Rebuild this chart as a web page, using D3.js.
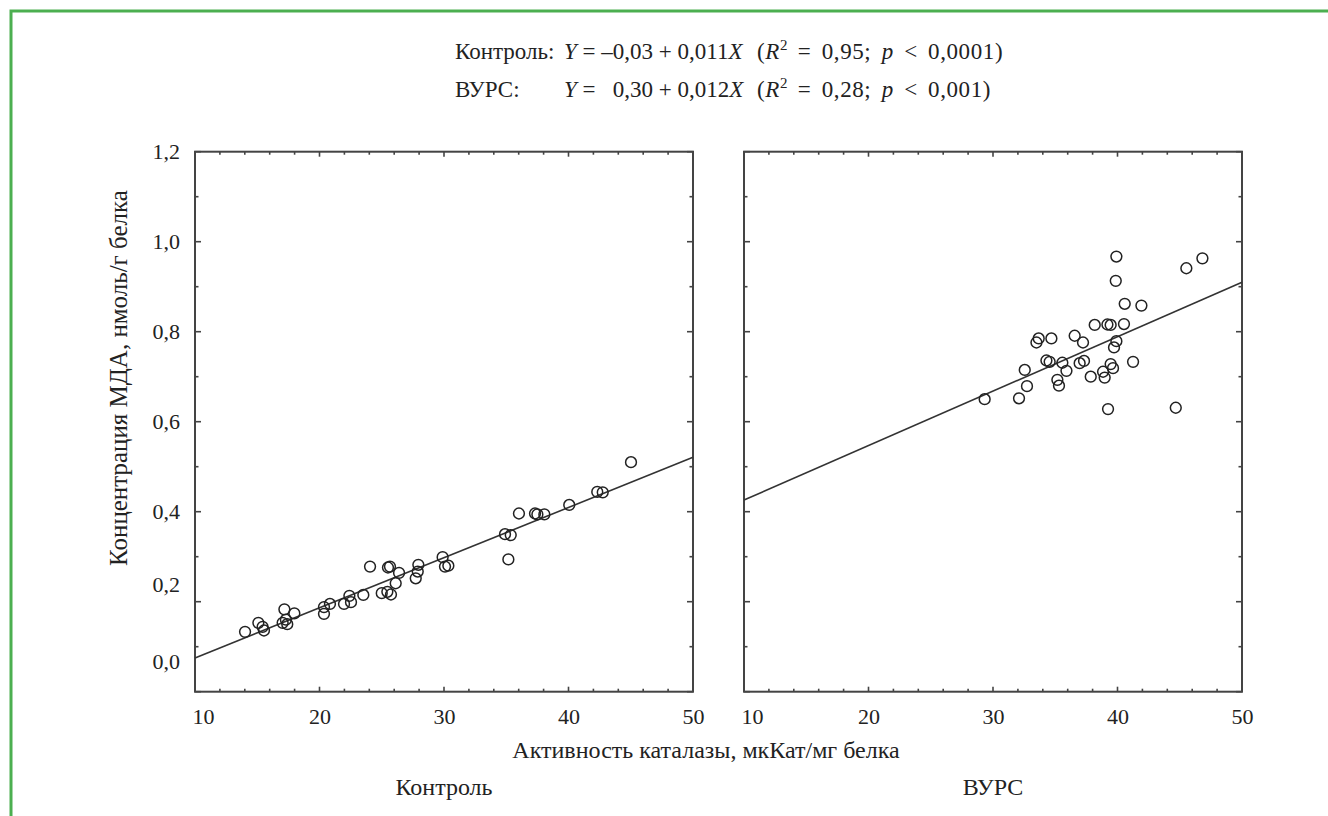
<!DOCTYPE html>
<html><head><meta charset="utf-8">
<script src="https://cdn.jsdelivr.net/npm/d3@7"></script>
<style>body{margin:0;background:#fff}svg text{font-family:"Liberation Serif","DejaVu Serif",serif;fill:#222}</style>
</head><body>
<svg id="c" width="1328" height="816"></svg>
<script>
// ---- data ----
const panelNames = ["Контроль", "ВУРС"];
const controlX = [14.02,15.09,15.43,15.54,17.18,17.04,17.41,17.3,17.98,20.36,20.36,20.84,21.97,22.40,22.53,23.52,24.06,25.0,25.66,25.5,25.74,25.45,26.12,26.39,27.73,27.94,27.89,29.89,30.08,30.35,34.90,35.36,35.17,36.02,37.31,37.50,38.06,40.06,42.31,42.75,45.02];
const controlY = [0.133,0.153,0.144,0.136,0.183,0.153,0.150,0.160,0.174,0.188,0.173,0.195,0.195,0.213,0.199,0.215,0.278,0.219,0.278,0.276,0.216,0.222,0.241,0.264,0.252,0.282,0.267,0.299,0.278,0.280,0.350,0.348,0.294,0.396,0.396,0.394,0.394,0.415,0.444,0.443,0.510];
const vursX = [39.91,46.82,45.53,39.86,40.58,41.92,38.17,39.19,39.45,40.52,36.56,37.23,34.69,33.67,33.49,39.91,39.72,34.29,34.55,35.57,36.96,37.31,39.45,39.64,41.25,35.90,32.55,38.84,38.97,37.85,35.17,35.30,32.73,32.09,29.33,39.24,44.68];
const vursY = [0.967,0.963,0.941,0.913,0.862,0.858,0.815,0.816,0.815,0.817,0.791,0.776,0.785,0.785,0.776,0.779,0.765,0.736,0.733,0.731,0.730,0.735,0.728,0.719,0.733,0.713,0.715,0.711,0.698,0.700,0.693,0.680,0.679,0.652,0.650,0.628,0.631];
const fitIntercepts = [-0.0366, 0.305];
const fitSlopes = [0.01115, 0.0121];
const xDomain = [10, 50];
const yDomain = [0, 1.2];
const xTickValues = [10, 20, 30, 40, 50];
const xTickLabels = ["10", "20", "30", "40", "50"];
const yTickValues = [0, 0.2, 0.4, 0.6, 0.8, 1.0, 1.2];
const yTickLabels = ["0,0", "0,2", "0,4", "0,6", "0,8", "1,0", "1,2"];
const titleLines = [
  ["Контроль:", "Y", " = –0,03 + 0,011", "X", "(", "R", "2", " = 0,95; ", "p", " < 0,0001)"],
  ["ВУРС:", "Y", " =   0,30 + 0,012", "X", "(", "R", "2", " = 0,28; ", "p", " < 0,001)"]
];
const xAxisTitle = "Активность каталазы, мкКат/мг белка";
const yAxisTitle = "Концентрация МДА, нмоль/г белка";

// ---- drawing ----
const svg = d3.select("#c");
svg.append("rect").attr("width",1328).attr("height",816).attr("fill","#fff");
svg.append("path").attr("d","M11,816 V11 H1328").attr("fill","none").attr("stroke","#4caf50").attr("stroke-width",3);

const plotTop = 151.7, plotBottom = 691.7;
const panelLeft = [195, 744], panelW = 498;
const y = d3.scaleLinear().domain(yDomain).range([plotBottom, plotTop]);
const datasets = [[controlX, controlY], [vursX, vursY]];
// the printed figure sets its two lowest y labels a little above their ticks
const yLabelShift = [-30, -17, 0, 0, 0, 0, 0];
const xLabelShift = [8, 0, 0, 0, 0];

panelNames.forEach((name, i) => {
  const x = d3.scaleLinear().domain(xDomain).range([panelLeft[i], panelLeft[i] + panelW]);
  const g = svg.append("g");
  const xMinor = d3.range(12, 50, 2).filter(v => v % 10 !== 0);
  const yMinor = d3.range(1, 12, 2).map(v => v / 10);
  const tk = g.append("g").attr("stroke","#444").attr("stroke-width",1.6);
  xMinor.forEach(v => {
    tk.append("line").attr("x1",x(v)).attr("x2",x(v)).attr("y1",plotBottom).attr("y2",plotBottom-3);
    tk.append("line").attr("x1",x(v)).attr("x2",x(v)).attr("y1",plotTop).attr("y2",plotTop+3);
  });
  xTickValues.forEach(v => {
    tk.append("line").attr("x1",x(v)).attr("x2",x(v)).attr("y1",plotBottom).attr("y2",plotBottom-5);
    tk.append("line").attr("x1",x(v)).attr("x2",x(v)).attr("y1",plotTop).attr("y2",plotTop+5);
  });
  yMinor.forEach(v => {
    tk.append("line").attr("x1",x.range()[0]).attr("x2",x.range()[0]+3.5).attr("y1",y(v)).attr("y2",y(v));
    tk.append("line").attr("x1",x.range()[1]).attr("x2",x.range()[1]-3.5).attr("y1",y(v)).attr("y2",y(v));
  });
  yTickValues.forEach(v => {
    tk.append("line").attr("x1",x.range()[0]).attr("x2",x.range()[0]+6).attr("y1",y(v)).attr("y2",y(v));
    tk.append("line").attr("x1",x.range()[1]).attr("x2",x.range()[1]-6).attr("y1",y(v)).attr("y2",y(v));
  });
  g.append("rect").attr("x",x.range()[0]).attr("y",plotTop).attr("width",panelW).attr("height",plotBottom-plotTop)
    .attr("fill","none").attr("stroke","#444").attr("stroke-width",2);
  const xa = d3.axisBottom(x).tickValues(xTickValues).tickFormat((d,j)=>xTickLabels[j]).tickSize(0).tickPadding(17);
  const xag = g.append("g").attr("transform",`translate(0,${plotBottom})`).call(xa);
  xag.attr("font-family",null).attr("font-size",null);
  xag.select(".domain").remove();
  xag.selectAll("text").attr("font-size",22).attr("fill","#222").attr("dx",(d,j)=>xLabelShift[j]);
  if (i === 0) {
    const ya = d3.axisLeft(y).tickValues(yTickValues).tickFormat((d,j)=>yTickLabels[j]).tickSize(0).tickPadding(15);
    const yag = g.append("g").attr("transform",`translate(${x.range()[0]},0)`).call(ya);
    yag.attr("font-family",null).attr("font-size",null);
    yag.select(".domain").remove();
    yag.selectAll("text").attr("font-size",22).attr("fill","#222").attr("y",(d,j)=>yLabelShift[j]);
  }
  g.append("line").attr("x1",x(xDomain[0])).attr("x2",x(xDomain[1]))
    .attr("y1",y(fitIntercepts[i]+fitSlopes[i]*xDomain[0])).attr("y2",y(fitIntercepts[i]+fitSlopes[i]*xDomain[1]))
    .attr("stroke","#333").attr("stroke-width",1.6);
  const [dx, dy] = datasets[i];
  g.selectAll("circle").data(dx.map((v,j)=>[v,dy[j]])).join("circle")
    .attr("cx",d=>x(d[0])).attr("cy",d=>y(d[1])).attr("r",5.4)
    .attr("fill","none").attr("stroke","#222").attr("stroke-width",1.5);
  svg.append("text").attr("x", (x.range()[0]+x.range()[1])/2).attr("y", 795).attr("text-anchor","middle")
    .attr("font-size",24).text(name);
});

svg.append("text").attr("x",706).attr("y",758).attr("text-anchor","middle").attr("font-size",24).text(xAxisTitle);
svg.append("text").attr("transform","translate(127,378) rotate(-90)").attr("text-anchor","middle").attr("font-size",25).text(yAxisTitle);

const colX = [455, 564, 757];
titleLines.forEach((parts, k) => {
  const t = svg.append("text").attr("y", 59 + k*38).attr("font-size",23);
  t.append("tspan").attr("x",colX[0]).text(parts[0]);
  t.append("tspan").attr("x",colX[1]).attr("font-style","italic").text(parts[1]);
  t.append("tspan").attr("xml:space","preserve").text(parts[2]);
  t.append("tspan").attr("font-style","italic").text(parts[3]);
  const p = t.append("tspan").attr("x",colX[2]).attr("letter-spacing",0.6);
  t.append("tspan").attr("x",colX[2]).attr("letter-spacing",0.6).text(parts[4]);
  t.append("tspan").attr("font-style","italic").attr("letter-spacing",0.6).text(parts[5]);
  t.append("tspan").attr("dy",-9).attr("font-size",15).text(parts[6]);
  t.append("tspan").attr("dy",9).attr("word-spacing",4).attr("letter-spacing",0.6).text(parts[7]);
  t.append("tspan").attr("font-style","italic").attr("letter-spacing",0.6).text(parts[8]);
  t.append("tspan").attr("word-spacing",4).attr("letter-spacing",0.6).text(parts[9]);
  p.remove();
});
</script>
</body></html>
